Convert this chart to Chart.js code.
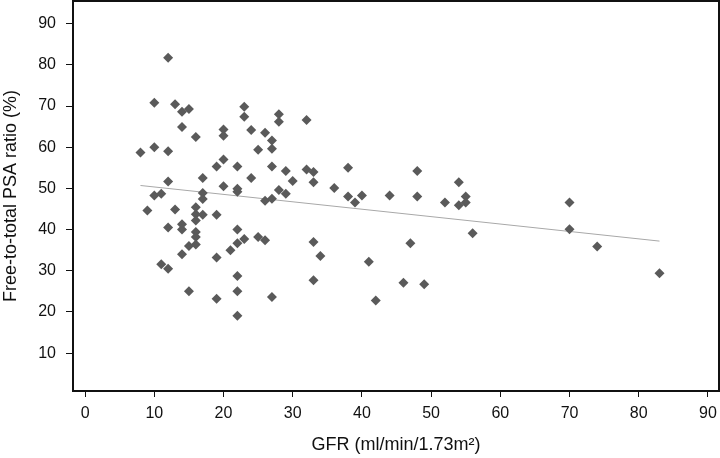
<!DOCTYPE html>
<html>
<head>
    <meta charset="UTF-8" />
    <title>Free-to-total PSA ratio vs GFR</title>
    <script src="https://cdn.jsdelivr.net/npm/chart.js"></script>
    <style>
        html, body { margin: 0; padding: 0; background: #fff; }
        #wrap { width: 720px; height: 458px; }
    </style>
</head>
<body>
    <div id="wrap"><canvas id="psaChart" width="720" height="458"></canvas></div>

    <script>
        // GFR (x) and free-to-total PSA ratio (y) for each patient
        const gfr = [
            8, 9, 10, 10, 10, 11, 11, 12, 12, 12, 12, 12, 13, 13, 14, 14, 14, 14, 14,
            15, 15, 15, 16, 16, 16, 16, 16, 16, 16, 17, 17, 17, 17, 19, 19, 19, 19,
            20, 20, 20, 20, 21, 22, 22, 22, 22, 22, 22, 22, 22, 23, 23, 23, 24, 24,
            25, 25, 26, 26, 26, 27, 27, 27, 27, 27, 28, 28, 28, 29, 29, 30, 32, 32,
            33, 33, 33, 33, 34, 36, 38, 38, 39, 40, 41, 42, 44, 46, 47, 48, 48, 49,
            52, 54, 54, 55, 55, 56, 70, 70, 74, 83
        ];
        const ratio = [
            58.7, 44.6, 70.8, 60.0, 48.3, 48.7, 31.6, 81.7, 59.0, 51.7, 40.5, 30.5, 70.4, 44.9, 68.6, 64.9, 41.3, 40.0, 34.0,
            69.3, 36.0, 25.0, 62.5, 45.4, 43.7, 42.2, 39.4, 38.2, 36.4, 52.5, 48.9, 47.4, 43.6, 55.3, 43.6, 33.2, 23.2,
            64.3, 62.8, 57.0, 50.5, 35.0, 55.3, 49.9, 49.2, 40.0, 36.7, 28.7, 25.0, 19.1, 69.8, 67.4, 37.7, 64.2, 52.5,
            59.4, 38.2, 63.5, 47.0, 37.4, 61.6, 59.6, 55.3, 47.5, 23.6, 68.0, 66.2, 49.6, 54.2, 48.7, 51.8, 66.6, 54.6,
            54.0, 51.5, 37.0, 27.7, 33.6, 50.1, 55.0, 48.0, 46.6, 48.3, 32.2, 22.8, 48.3, 27.1, 36.7, 54.2, 48.0, 26.7,
            46.6, 51.5, 45.9, 48.0, 46.6, 39.1, 46.6, 40.1, 35.9, 29.4
        ];

        // regression line end points
        const fitX = [8, 83];
        const fitY = [50.7, 37.2];

        const xTicks = [0, 10, 20, 30, 40, 50, 60, 70, 80, 90];
        const yTicks = [10, 20, 30, 40, 50, 60, 70, 80, 90];

        const points = gfr.map((g, i) => ({ x: g, y: ratio[i] }));
        const fitLine = fitX.map((g, i) => ({ x: g, y: fitY[i] }));

        // box round the plot area
        const frame = {
            id: 'frame',
            afterDraw(chart) {
                const a = chart.chartArea;
                const ctx = chart.ctx;
                ctx.save();
                ctx.strokeStyle = '#111';
                ctx.lineWidth = 2;
                ctx.strokeRect(a.left, a.top, a.right - a.left, a.bottom - a.top);
                ctx.restore();
            }
        };

        const tickFont = { family: 'Liberation Sans, Arial, sans-serif', size: 16 };
        const titleFont = { family: 'Liberation Sans, Arial, sans-serif', size: 18 };

        const ctx = document.getElementById('psaChart').getContext('2d');
        new Chart(ctx, {
            type: 'scatter',
            data: {
                datasets: [
                    {
                        label: 'Patients',
                        data: points,
                        pointStyle: 'rectRot',
                        pointRadius: 5,
                        pointBackgroundColor: '#5a5a5a',
                        pointBorderColor: '#5a5a5a',
                        pointBorderWidth: 0,
                        order: 1
                    },
                    {
                        type: 'line',
                        label: 'Fit',
                        data: fitLine,
                        borderColor: '#a8a8a8',
                        borderWidth: 1,
                        pointRadius: 0,
                        fill: false,
                        order: 2
                    }
                ]
            },
            options: {
                responsive: false,
                animation: false,
                layout: { autoPadding: false, padding: { top: 1, right: 1, bottom: 0, left: 0 } },
                plugins: {
                    legend: { display: false },
                    tooltip: { enabled: false }
                },
                scales: {
                    x: {
                        type: 'linear',
                        min: -1.75,
                        max: 91.6,
                        afterBuildTicks: s => { s.ticks = xTicks.map(v => ({ value: v })); },
                        afterFit: s => { s.height = 67; s.paddingLeft = 0; s.paddingRight = 0; },
                        border: { display: false },
                        grid: { drawOnChartArea: false, drawTicks: true, tickLength: 6, color: '#111' },
                        ticks: { font: tickFont, color: '#111', padding: 7, maxRotation: 0 },
                        title: {
                            display: true,
                            text: 'GFR (ml/min/1.73m\u00b2)',
                            font: titleFont,
                            color: '#111',
                            padding: { top: 0, bottom: 2 }
                        }
                    },
                    y: {
                        type: 'linear',
                        min: 0.8,
                        max: 95.5,
                        afterBuildTicks: s => { s.ticks = yTicks.map(v => ({ value: v })); },
                        afterFit: s => { s.width = 73; s.paddingTop = 0; s.paddingBottom = 0; },
                        border: { display: false },
                        grid: { drawOnChartArea: false, drawTicks: true, tickLength: 7, color: '#111' },
                        ticks: { font: tickFont, color: '#111', padding: 10 },
                        title: {
                            display: true,
                            text: 'Free-to-total PSA ratio (%)',
                            font: titleFont,
                            color: '#111',
                            padding: { top: 0, bottom: 0 }
                        }
                    }
                }
            },
            plugins: [frame]
        });
    </script>
</body>
</html>
